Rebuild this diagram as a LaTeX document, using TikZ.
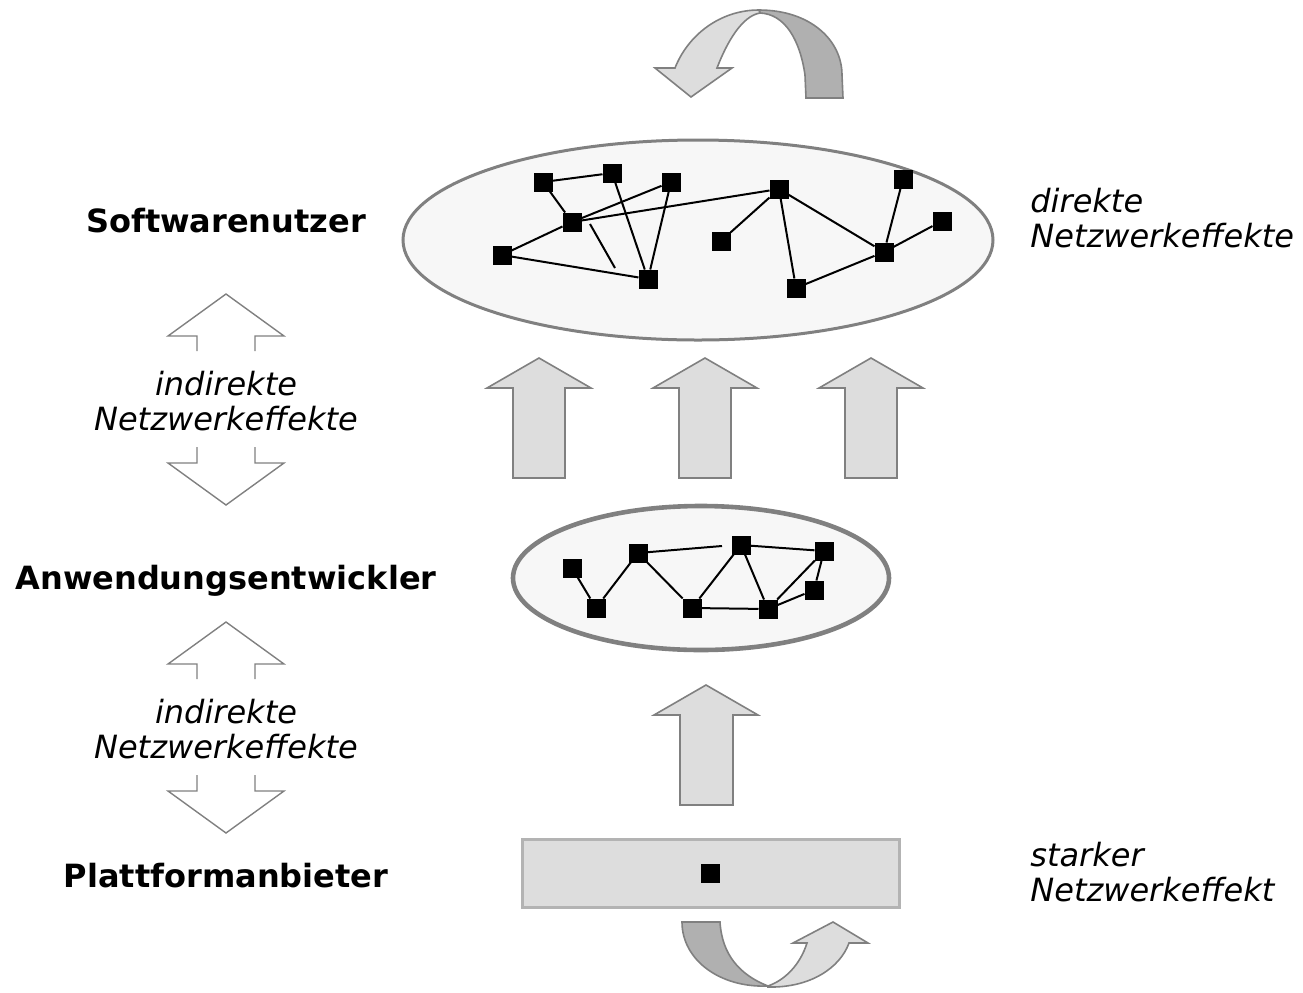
\documentclass[tikz,border=0pt]{standalone}
\usepackage{fontspec}
\setmainfont{DejaVu Sans}
\definecolor{rimgray}{HTML}{808080}
\definecolor{fillgray}{HTML}{DDDDDD}
\definecolor{darkfill}{HTML}{B0B0B0}
\definecolor{paleback}{HTML}{F7F7F7}
\definecolor{boxrim}{HTML}{B3B3B3}
\tikzset{
  knot/.style={fill=black, minimum size=9.5pt, inner sep=0pt, outer sep=0pt},
  tie/.style={line width=1pt},
  bigarrow/.style={fill=fillgray, draw=rimgray, line width=0.8pt},
  hollowarrow/.style={draw=rimgray, line width=0.7pt},
  curlfar/.style={fill=darkfill, draw=rimgray, line width=0.8pt},
  curlnear/.style={fill=fillgray, draw=rimgray, line width=0.8pt},
  role/.style={font=\fontsize{16}{19}\selectfont\bfseries, inner sep=0pt},
  effect/.style={font=\fontsize{16}{17.5}\selectfont\itshape, align=center, inner sep=0pt},
}

\begin{document}
\begin{tikzpicture}[x=0.5pt, y=-0.5pt]

\useasboundingbox (0,0) rectangle (1303,992);

% ellipses and platform bar
\draw[fill=paleback, draw=rimgray, line width=1.5pt] (698,240) ellipse [x radius=295, y radius=100];
\draw[fill=paleback, draw=rimgray, line width=2.3pt] (701,578) ellipse [x radius=188, y radius=72];
\draw[fill=fillgray, draw=boxrim, line width=1.5pt] (522,839) rectangle (899,907);

% upward arrows
\foreach \cx in {539,705,871}
  \draw[bigarrow] (\cx,358) -- (\cx+52,388) -- (\cx+26,388) -- (\cx+26,478)
    -- (\cx-26,478) -- (\cx-26,388) -- (\cx-52,388) -- cycle;
\draw[bigarrow] (706,685) -- (758,715) -- (733,715) -- (733,805)
  -- (680,805) -- (680,715) -- (654,715) -- cycle;

% hollow double arrows on the left
\foreach \dy in {0,328} {
  \draw[hollowarrow] (197,351+\dy) -- (197,336+\dy) -- (168,336+\dy) -- (226,294+\dy)
    -- (284,336+\dy) -- (255,336+\dy) -- (255,351+\dy);
  \draw[hollowarrow] (197,447+\dy) -- (197,463+\dy) -- (168,463+\dy) -- (226,505+\dy)
    -- (284,463+\dy) -- (255,463+\dy) -- (255,447+\dy);
}

% curved arrow on top
\draw[curlfar] (759,10) .. controls (810,10) and (842,40) .. (842,75) -- (843,98)
  -- (806,98) -- (805,75) .. controls (800,40) and (785,14) .. (760,13) -- cycle;
\draw[curlnear] (759,10) .. controls (720,10) and (688,35) .. (675,68) -- (655,68)
  -- (691,97) -- (732,68) -- (717,68) .. controls (727,42) and (742,16) .. (760,13) -- cycle;

% curved arrow at the bottom
\draw[curlfar] (682,922) -- (720,922) .. controls (722,955) and (740,975) .. (768,986)
  .. controls (720,988) and (682,960) .. (682,922) -- cycle;
\draw[curlnear] (768,987) .. controls (810,988) and (840,968) .. (849,943) -- (868,943)
  -- (833,922) -- (793,943) -- (807,943) .. controls (800,965) and (785,980) .. (768,986) -- cycle;

% users
\node[knot] (u1) at (543,182) {};
\node[knot] (u2) at (612,173) {};
\node[knot] (u3) at (671,182) {};
\node[knot] (u4) at (572,222) {};
\node[knot] (u5) at (502,255) {};
\node[knot] (u6) at (648,279) {};
\node[knot] (u7) at (779,189) {};
\node[knot] (u8) at (721,241) {};
\node[knot] (u9) at (796,288) {};
\node[knot] (u10) at (903,179) {};
\node[knot] (u11) at (884,252) {};
\node[knot] (u12) at (942,221) {};
\coordinate (u4a) at (590,224);
\coordinate (u4b) at (615,268);

\draw[tie] (u1) -- (u2);
\draw[tie] (u1) -- (u4);
\draw[tie] (u4) -- (u3);
\draw[tie] (u4) -- (u7);
\draw[tie] (u4) -- (u5);
\draw[tie] (u5) -- (u6);
\draw[tie] (u2) -- (u6);
\draw[tie] (u3) -- (u6);
\draw[tie] (u4a) -- (u4b);
\draw[tie] (u7) -- (u8);
\draw[tie] (u7) -- (u9);
\draw[tie] (u7) -- (u11);
\draw[tie] (u9) -- (u11);
\draw[tie] (u10) -- (u11);
\draw[tie] (u11) -- (u12);

% developers
\node[knot] (m1) at (572,568) {};
\node[knot] (m2) at (596,608) {};
\node[knot] (m3) at (638,553) {};
\node[knot] (m4) at (692,608) {};
\node[knot] (m5) at (741,545) {};
\node[knot] (m6) at (768,609) {};
\node[knot] (m7) at (824,551) {};
\node[knot] (m8) at (814,590) {};
\coordinate (m3a) at (722,546);

\draw[tie] (m1) -- (m2);
\draw[tie] (m2) -- (m3);
\draw[tie] (m3) -- (m4);
\draw[tie] (m3) -- (m3a);
\draw[tie] (m4) -- (m5);
\draw[tie] (m4) -- (m6);
\draw[tie] (m5) -- (m6);
\draw[tie] (m5) -- (m7);
\draw[tie] (m6) -- (m7);
\draw[tie] (m6) -- (m8);
\draw[tie] (m8) -- (m7);

% platform
\node[knot] (p1) at (710,873) {};

% labels
\node[role] (sw) at (226,221) {Softwarenutzer};
\node[role] (aw) at (226,581) {Anwendungsentwickler};
\node[role] (pf) at (226,876) {Plattformanbieter};
\node[effect] (ind1) at (226,401) {indirekte\\Netzwerkeffekte};
\node[effect] (ind2) at (226,729) {indirekte\\Netzwerkeffekte};
\node[effect, align=left, anchor=west] (dir) at (1030,218) {direkte\\Netzwerkeffekte};
\node[effect, align=left, anchor=west] (stk) at (1030,872) {starker\\Netzwerkeffekt};

\end{tikzpicture}
\end{document}
